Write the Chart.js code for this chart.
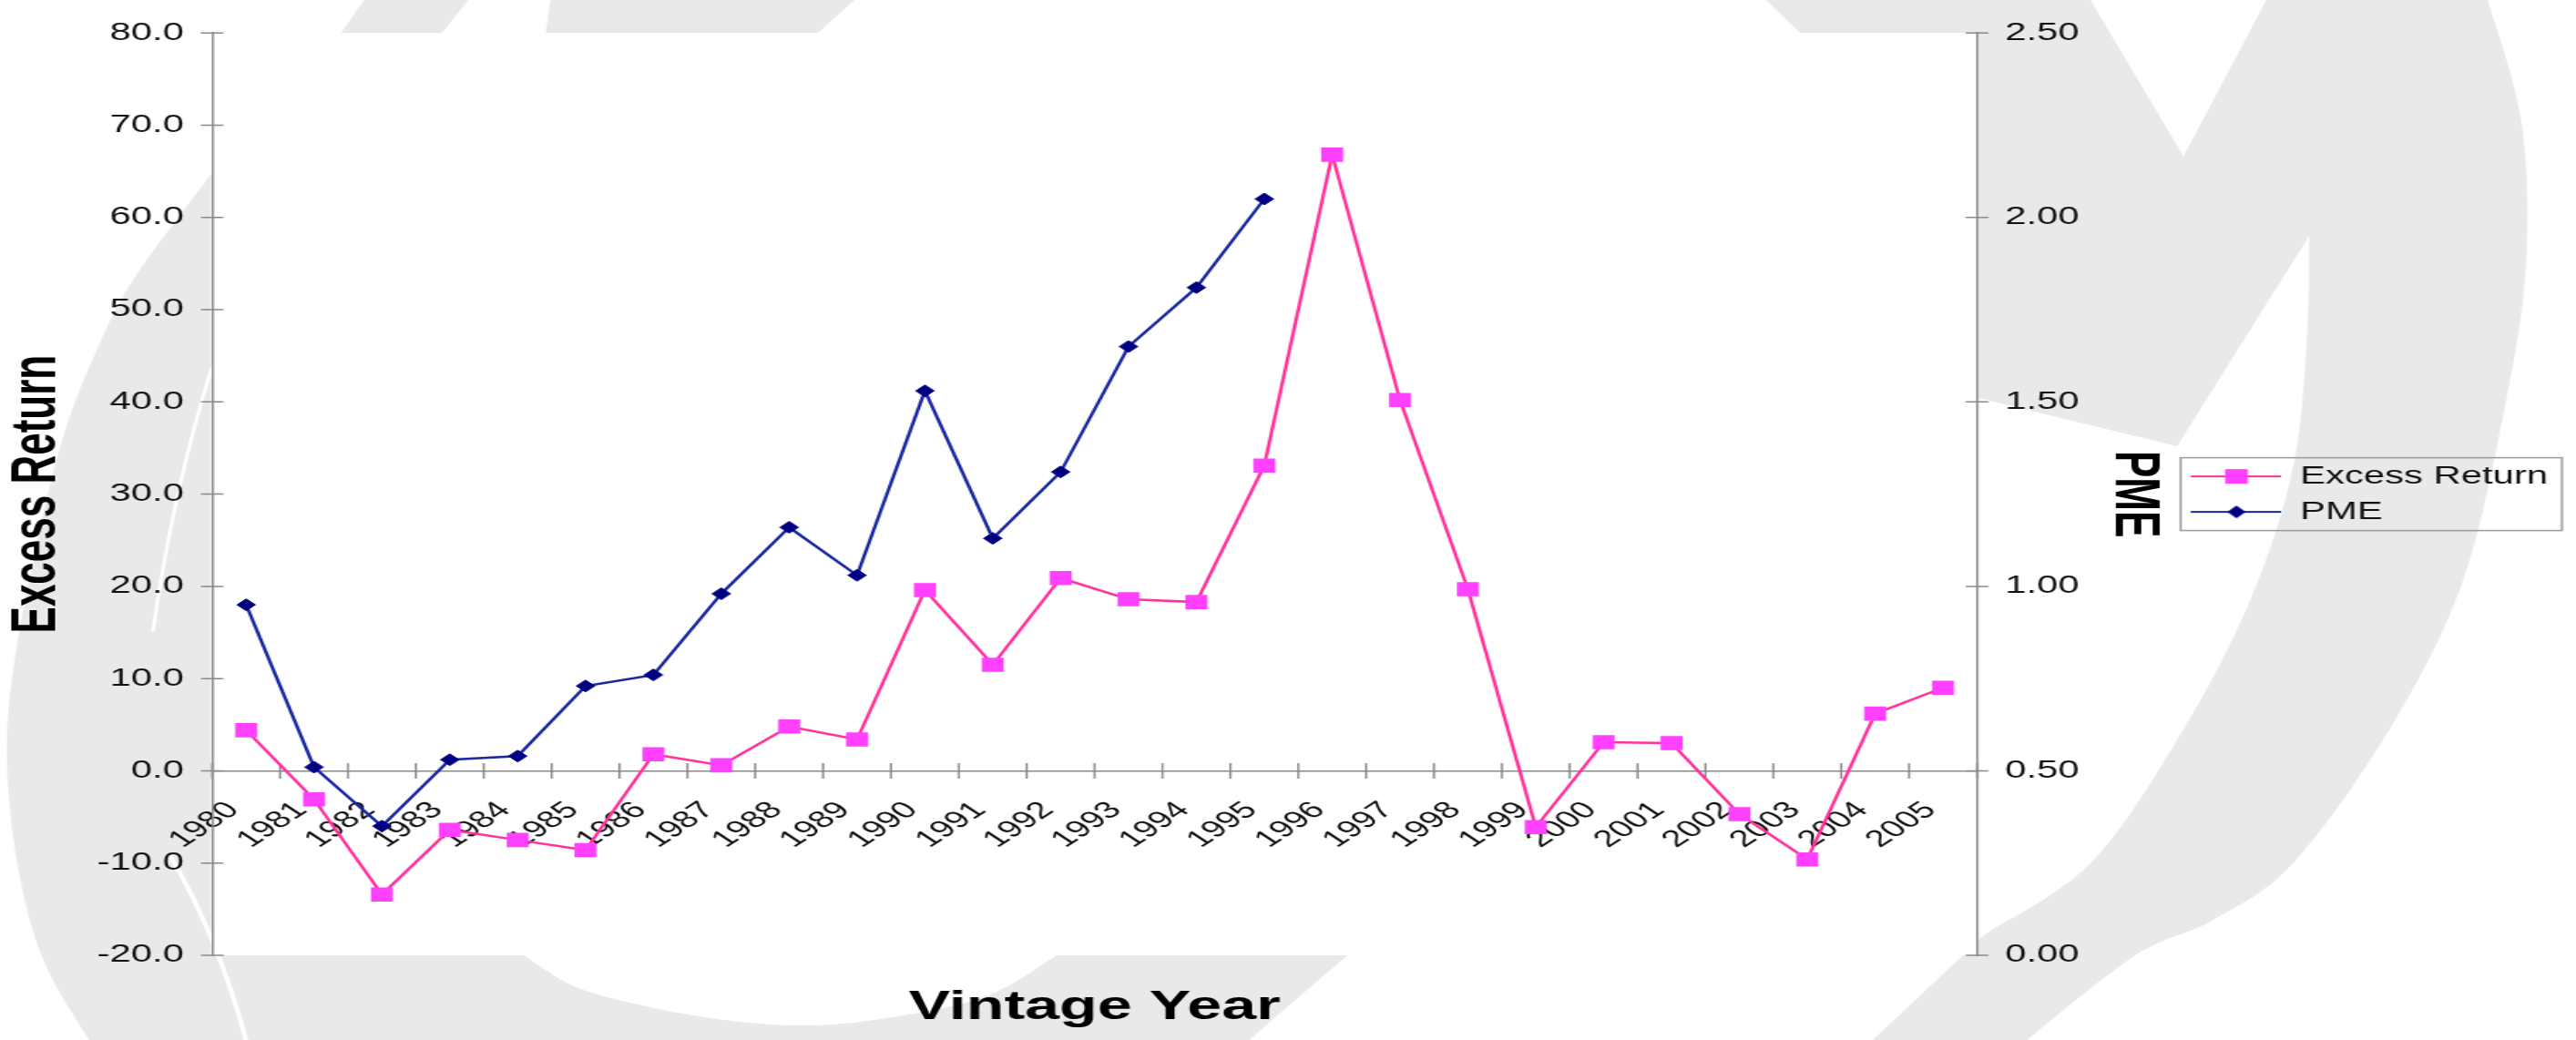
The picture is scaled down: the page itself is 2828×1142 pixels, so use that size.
<!DOCTYPE html>
<html>
<head>
<meta charset="utf-8">
<title>Excess Return y PME por año</title>
<script src="https://cdn.jsdelivr.net/npm/chart.js@4.4.1/dist/chart.umd.min.js"></script>
<style>
  html, body { margin: 0; padding: 0; background: #fff; overflow: hidden; }
  /* el lienzo se dibuja más angosto y se estira a lo ancho */
  #contenedor { width: 1825px; height: 1142px; transform: scaleX(1.5496); transform-origin: 0 0; }
</style>
</head>
<body>
<div id="contenedor"><canvas id="grafica"></canvas></div>
<script>
// Datos por año de cosecha
const anios = ['1980', '1981', '1982', '1983', '1984', '1985', '1986', '1987', '1988', '1989',
  '1990', '1991', '1992', '1993', '1994', '1995', '1996', '1997', '1998', '1999',
  '2000', '2001', '2002', '2003', '2004', '2005'];

const excessReturn = [4.4, -3.1, -13.4, -6.4, -7.5, -8.6, 1.8, 0.6, 4.8, 3.4,
  19.6, 11.5, 20.9, 18.6, 18.3, 33.1, 66.8, 40.2, 19.7, -6.1,
  3.1, 3.0, -4.7, -9.6, 6.2, 9.0];

const pme = [0.95, 0.51, 0.35, 0.53, 0.54, 0.73, 0.76, 0.98, 1.16, 1.03,
  1.53, 1.13, 1.31, 1.65, 1.81, 2.05, null, null, null, null,
  null, null, null, null, null, null];

// Escalas de los dos ejes
const ejeIzq = { min: -20, max: 80, paso: 10, decimales: 1 };
const ejeDer = { min: 0, max: 2.5, paso: 0.5, decimales: 2 };

const ESTIRA = 2828 / 1825;
const FUENTE = "'Liberation Sans', Arial, sans-serif";
const ROSA_LINEA = '#ff3399';
const ROSA_MARCA = '#ff40ff';
const AZUL_LINEA = '#1a28a0';
const AZUL_MARCA = '#000080';
const GRIS_EJE = '#8a8a8a';

// Marca de agua gris del fondo (coordenadas ya estiradas)
const marcaAgua = [
  [[[232, 191], [147, 306], [107, 383], [76, 459], [54, 536], [40, 600], [20, 700], [8, 800], [12, 900], [30, 1000], [55, 1070], [98, 1142]],
   [[1371, 1142]], [[1479, 1049]],
   [[1160, 1049], [1080, 1095], [960, 1120], [870, 1126], [780, 1118], [700, 1103], [630, 1083], [575, 1049]],
   [[232, 1049]]],
  [[[400, 0]], [[514, 0]], [[478, 45]], [[368, 45]]],
  [[[604, 0]], [[938, 0]], [[888, 45]], [[598, 45]]],
  [[[1939, 0]], [[2295, 0]], [[2397, 172]], [[2488, 0]],
   [[2731, 0], [2768, 134], [2773, 290], [2750, 446], [2703, 640], [2623, 801], [2518, 947], [2430, 1010], [2344, 1049], [2225, 1142]],
   [[2056, 1142]],
   [[2155, 1049], [2178, 1027], [2296, 947], [2397, 801], [2472, 655], [2518, 510], [2533, 364], [2535, 259]],
   [[2390, 490]], [[2172, 437]], [[2172, 40]], [[1980, 40]]]
];

// Traza una figura: cada tramo es una curva suave, unidos con rectas
function trazarFigura(ctx, tramos) {
  ctx.beginPath();
  tramos.forEach((pts, t) => {
    if (t === 0) ctx.moveTo(pts[0][0], pts[0][1]);
    else ctx.lineTo(pts[0][0], pts[0][1]);
    for (let i = 0; i < pts.length - 1; i++) {
      const p0 = pts[i - 1] || pts[i], p1 = pts[i], p2 = pts[i + 1], p3 = pts[i + 2] || p2;
      ctx.bezierCurveTo(
        p1[0] + (p2[0] - p0[0]) / 6, p1[1] + (p2[1] - p0[1]) / 6,
        p2[0] - (p3[0] - p1[0]) / 6, p2[1] - (p3[1] - p1[1]) / 6,
        p2[0], p2[1]);
    }
  });
  ctx.closePath();
}

const fondo = {
  id: 'fondo',
  beforeDraw(chart) {
    const { ctx, chartArea: a, width, height } = chart;
    ctx.save();
    ctx.fillStyle = '#fff';
    ctx.fillRect(0, 0, width, height);
    ctx.scale(1 / ESTIRA, 1);
    ctx.fillStyle = '#e9e9e9';
    marcaAgua.forEach(f => { trazarFigura(ctx, f); ctx.fill(); });
    // rendijas blancas del arco izquierdo
    ctx.strokeStyle = '#fff';
    ctx.lineCap = 'round';
    ctx.lineWidth = 4;
    ctx.beginPath();
    ctx.moveTo(232, 405);
    ctx.quadraticCurveTo(190, 540, 168, 692);
    ctx.stroke();
    ctx.lineWidth = 5;
    ctx.beginPath();
    ctx.moveTo(187, 940);
    ctx.quadraticCurveTo(240, 1030, 270, 1142);
    ctx.stroke();
    ctx.restore();
    // área de trazado en blanco
    ctx.save();
    ctx.fillStyle = '#fff';
    ctx.fillRect(a.left, a.top, a.right - a.left, a.bottom - a.top);
    ctx.restore();
  }
};

// Marcas cruzadas en los ejes y recuadro de la leyenda
const marcas = {
  id: 'marcas',
  beforeDatasetsDraw(chart) {
    const { ctx, scales: { x, y, y1 } } = chart;
    const cero = y.getPixelForValue(0);
    ctx.save();
    ctx.strokeStyle = GRIS_EJE;
    ctx.lineWidth = 1.5;
    ctx.beginPath();
    for (let i = 0; i <= x.ticks.length; i++) {
      const px = x.getPixelForValue(i - 0.5);
      ctx.moveTo(px, cero - 8.5);
      ctx.lineTo(px, cero + 8.5);
    }
    y.ticks.forEach(t => {
      const py = y.getPixelForValue(t.value);
      ctx.moveTo(y.right - 8, py);
      ctx.lineTo(y.right + 8, py);
    });
    y1.ticks.forEach(t => {
      const py = y1.getPixelForValue(t.value);
      ctx.moveTo(y1.left - 8, py);
      ctx.lineTo(y1.left + 8, py);
    });
    ctx.stroke();
    ctx.restore();
  },
  afterDraw(chart) {
    const cajas = chart.legend.legendHitBoxes;
    if (!cajas || !cajas.length) return;
    const izq = Math.min(...cajas.map(c => c.left)) - 8;
    const arr = Math.min(...cajas.map(c => c.top)) - 7;
    const der = Math.max(...cajas.map(c => c.left + c.width)) + 10;
    const aba = Math.max(...cajas.map(c => c.top + c.height)) + 7;
    const ctx = chart.ctx;
    ctx.save();
    ctx.strokeStyle = '#9a9a9a';
    ctx.lineWidth = 1.5;
    ctx.strokeRect(izq, arr, der - izq, aba - arr);
    ctx.restore();
  }
};

// Muestra de la leyenda: línea con su marcador al centro
function muestra(colorLinea, colorMarca, forma) {
  const c = document.createElement('canvas');
  c.width = 64;
  c.height = 20;
  const g = c.getContext('2d');
  g.strokeStyle = colorLinea;
  g.lineWidth = 2;
  g.beginPath();
  g.moveTo(0, 10);
  g.lineTo(64, 10);
  g.stroke();
  g.fillStyle = colorMarca;
  if (forma === 'cuadro') {
    g.fillRect(24, 2, 16, 16);
  } else {
    g.beginPath();
    g.moveTo(25.5, 10);
    g.lineTo(32, 3);
    g.lineTo(38.5, 10);
    g.lineTo(32, 17);
    g.closePath();
    g.fill();
  }
  return c;
}
const muestras = [muestra(ROSA_LINEA, ROSA_MARCA, 'cuadro'), muestra(AZUL_LINEA, AZUL_MARCA, 'rombo')];

const fuenteTicks = { family: FUENTE, size: 27 };
const fuenteAnios = { family: FUENTE, size: 26 };
const fuenteTitulo = { family: FUENTE, size: 44, weight: 'bold' };

new Chart(document.getElementById('grafica'), {
  type: 'line',
  data: {
    labels: anios,
    datasets: [
      {
        label: 'Excess Return',
        data: excessReturn,
        yAxisID: 'y',
        borderColor: ROSA_LINEA,
        backgroundColor: ROSA_MARCA,
        borderWidth: 2.5,
        tension: 0,
        pointStyle: 'rect',
        pointRadius: 11,
        pointBorderWidth: 0,
        pointBackgroundColor: ROSA_MARCA
      },
      {
        label: 'PME',
        data: pme,
        yAxisID: 'y1',
        borderColor: AZUL_LINEA,
        backgroundColor: AZUL_MARCA,
        borderWidth: 2.5,
        tension: 0,
        pointStyle: 'rectRot',
        pointRadius: 6.5,
        pointBorderWidth: 1,
        pointBorderColor: AZUL_MARCA,
        pointBackgroundColor: AZUL_MARCA
      }
    ]
  },
  options: {
    responsive: true,
    maintainAspectRatio: false,
    animation: false,
    layout: { padding: { top: 28, bottom: 93, left: 0, right: 10 } },
    plugins: {
      tooltip: { enabled: false },
      legend: {
        position: 'right',
        fullSize: false,
        align: 'center',
        labels: {
          usePointStyle: true,
          pointStyleWidth: 63,
          padding: 12,
          color: '#111',
          font: fuenteTicks,
          generateLabels: chart => chart.data.datasets.map((ds, i) => ({
            text: ds.label,
            pointStyle: muestras[i],
            datasetIndex: i,
            hidden: false,
            lineWidth: 0,
            fillStyle: 'transparent',
            strokeStyle: 'transparent',
            fontColor: '#111'
          }))
        }
      }
    },
    scales: {
      x: {
        type: 'category',
        position: { y: 0 },
        offset: true,
        grid: { display: true, drawOnChartArea: false, drawTicks: false, offset: true },
        border: { display: true, color: GRIS_EJE, width: 1.5 },
        ticks: {
          autoSkip: false,
          minRotation: 45,
          maxRotation: 45,
          padding: 28,
          labelOffset: -9,
          color: '#111',
          font: fuenteAnios
        },
        title: {
          display: true,
          text: 'Vintage Year',
          color: '#000',
          font: fuenteTitulo,
          padding: { top: 115, bottom: 0 }
        }
      },
      y: {
        position: 'left',
        min: ejeIzq.min,
        max: ejeIzq.max,
        grid: { display: true, drawOnChartArea: false, drawTicks: false },
        border: { display: true, color: GRIS_EJE, width: 1.5 },
        ticks: {
          stepSize: ejeIzq.paso,
          padding: 20,
          color: '#111',
          font: fuenteTicks,
          callback: v => v.toFixed(ejeIzq.decimales)
        },
        title: {
          display: true,
          text: 'Excess Return',
          color: '#000',
          font: fuenteTitulo,
          padding: { top: 0, bottom: -4 }
        }
      },
      y1: {
        position: 'right',
        min: ejeDer.min,
        max: ejeDer.max,
        grid: { display: true, drawOnChartArea: false, drawTicks: false },
        border: { display: true, color: GRIS_EJE, width: 1.5 },
        ticks: {
          stepSize: ejeDer.paso,
          padding: 20,
          color: '#111',
          font: fuenteTicks,
          callback: v => v.toFixed(ejeDer.decimales)
        },
        title: {
          display: true,
          text: 'PME',
          color: '#000',
          font: fuenteTitulo,
          padding: { top: 3, bottom: -8 }
        }
      }
    }
  },
  plugins: [fondo, marcas]
});
</script>
</body>
</html>
